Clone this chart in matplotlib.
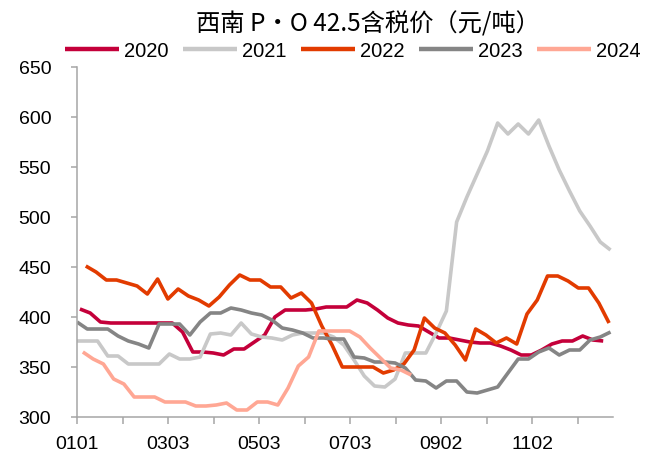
import numpy as np
import pandas as pd
import matplotlib
matplotlib.use("Agg")
import matplotlib.pyplot as plt

# ---------------- data ----------------
years = ["2020", "2021", "2022", "2023", "2024"]
start_dates = ["2020-01-03", "2021-01-01", "2022-01-07", "2023-01-01", "2024-01-05"]

v2020 = [408, 404, 395, 394, 394, 394, 394, 394, 394, 394, 385, 365, 365, 364, 362, 368,
         368, 375, 382, 400, 407, 407, 407, 408, 410, 410, 410, 417, 414, 407, 399, 394,
         392, 391, 385, 379, 379, 377, 375, 374, 374, 371, 367, 362, 362, 367, 373, 376,
         376, 381, 377, 376]
v2021 = [376, 376, 376, 361, 361, 353, 353, 353, 353, 363, 358, 358, 360, 383, 384, 382,
         394, 383, 380, 379, 377, 382, 384, 384, 384, 380, 372, 357, 341, 331, 330, 338,
         364, 364, 364, 384, 406, 495, 520, 543, 566, 594, 583, 593, 583, 597, 571, 547,
         526, 506, 491, 475, 467]
v2022 = [451, 445, 437, 437, 434, 431, 423, 438, 418, 428, 421, 417, 411, 420, 432, 442,
         437, 437, 430, 430, 419, 424, 414, 391, 372, 350, 350, 350, 350, 344, 347, 353,
         367, 399, 389, 384, 372, 357, 388, 382, 374, 379, 373, 403, 417, 441, 441, 436,
         429, 429, 414, 394]
v2023 = [395, 388, 388, 388, 381, 376, 373, 369, 393, 393, 393, 382, 395, 404, 404, 409,
         407, 404, 402, 397, 389, 387, 384, 379, 379, 378, 378, 360, 359, 355, 355, 354,
         349, 337, 336, 329, 336, 336, 325, 324, 327, 330, 344, 358, 358, 365, 369, 362,
         367, 367, 377, 380, 385]
v2024 = [365, 358, 353, 338, 333, 320, 320, 320, 315, 315, 315, 311, 311, 312, 314, 307,
         307, 315, 315, 312, 329, 351, 360, 386, 386, 386, 386, 380, 369, 359, 349, 347,
         342]
values = [v2020, v2021, v2022, v2023, v2024]

tick_labels = ["0101", "", "0303", "", "0503", "", "0703", "", "0902", "", "1102", ""]
title = "西南 P·O 42.5含税价（元/吨）"

colors = ["#C4003A", "#C8C8C8", "#E23B00", "#858585", "#FFA794"]

# ---------------- figure ----------------
plt.rcParams["font.family"] = ["Liberation Sans", "DejaVu Sans"]
fig = plt.figure(figsize=(6.47, 4.52), dpi=100)
ax = fig.add_axes([77 / 647, 34 / 452, 536 / 647, 350 / 452])

for yr, sd, vals, c in zip(years, start_dates, values, colors):
    doy = pd.Timestamp(sd).dayofyear - 1
    x = doy / 7 + np.arange(len(vals))
    ax.plot(x, vals, color=c, lw=2.6, label=yr, solid_joinstyle="round",
            solid_capstyle="butt")

ax.set_ylim(300, 650)
ax.set_yticks(np.arange(300, 651, 50))
ax.set_xlim(0, 52.24)
ax.set_xticks(np.arange(12) * 4.435)
ax.set_xticklabels(tick_labels)

spine_c = "#A6A6A6"
for s in ["top", "right"]:
    ax.spines[s].set_visible(False)
for s in ["left", "bottom"]:
    ax.spines[s].set_color(spine_c)
    ax.spines[s].set_linewidth(1.1)
ax.tick_params(axis="y", direction="out", length=4.5, width=1.1, color=spine_c,
               labelsize=14, pad=14, labelcolor="black")
ax.tick_params(axis="x", direction="out", length=5, width=1.1, color=spine_c,
               labelsize=14, pad=8, labelcolor="black")

fig.text(368 / 647, 1 - 24 / 452, title, ha="center", va="center", fontsize=17.5,
         family=["Noto Sans CJK SC", "DejaVu Sans"])

leg = fig.legend(loc="center", bbox_to_anchor=(353 / 647, 1 - 51.7 / 452), ncol=5,
                 frameon=False, fontsize=14.5, handlelength=2.7, handletextpad=0.25,
                 columnspacing=0.7, borderpad=0, borderaxespad=0)
for h in leg.get_lines():
    h.set_linewidth(3.2)

fig.savefig("out.png", dpi=100)
